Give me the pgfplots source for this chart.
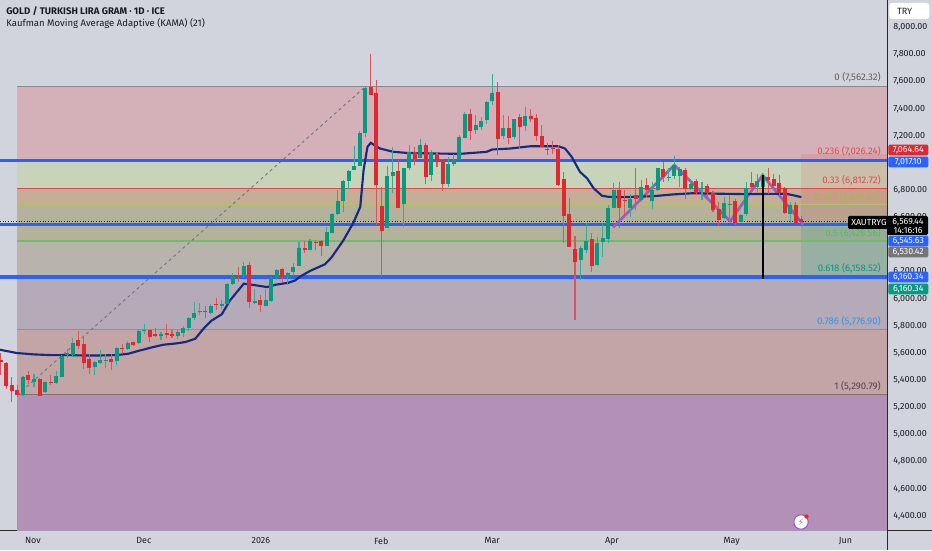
\documentclass[border=0pt]{standalone}
\usepackage{pgfplots}
\usepackage{pgfplotstable}
\pgfplotsset{compat=1.18}
\usepackage{fontspec}
\setmainfont{Fira Sans}
\newfontfamily\symb{DejaVu Sans}

\definecolor{bgc}{RGB}{209,212,220}
\definecolor{txtc}{RGB}{25,28,38}
\definecolor{cup}{RGB}{8,153,129}
\definecolor{cdn}{RGB}{222,40,50}
\definecolor{kama}{RGB}{22,42,130}
\definecolor{hl}{RGB}{41,98,255}
\definecolor{patt}{RGB}{156,92,190}
\definecolor{z0}{RGB}{212,177,184}
\definecolor{z1}{RGB}{200,212,186}
\definecolor{z2}{RGB}{198,174,150}
\definecolor{z3}{RGB}{181,178,155}
\definecolor{z4}{RGB}{184,180,171}
\definecolor{z5}{RGB}{180,170,184}
\definecolor{z6}{RGB}{196,165,165}
\definecolor{z7}{RGB}{179,145,182}
\definecolor{lolive}{RGB}{178,192,105}
\definecolor{lgreen}{RGB}{110,190,105}
\definecolor{lblue}{RGB}{115,150,190}
\definecolor{lone}{RGB}{135,110,115}
\definecolor{tolive}{RGB}{165,180,90}
\definecolor{tgreen}{RGB}{90,185,95}
\definecolor{tblue}{RGB}{50,150,230}

% day index, open, high, low, close
\pgfplotstableread{
x o h l c
4 5288 5428 5280 5423
6 5388 5442 5349 5408
8 5310 5393 5305 5383
10 5378 5464 5369 5428
11 5423 5582 5423 5577
12 5585 5631 5565 5600
13 5585 5713 5570 5671
17 5494 5541 5437 5533
18 5523 5624 5516 5545
19 5541 5590 5487 5550
21 5541 5641 5509 5636
23 5627 5686 5624 5676
25 5671 5767 5668 5762
26 5764 5816 5737 5771
29 5727 5752 5693 5742
32 5725 5767 5705 5757
33 5745 5796 5717 5786
34 5784 5865 5759 5860
35 5858 5975 5840 5897
36 5902 5968 5882 5909
38 5894 5958 5889 5948
40 5948 5988 5926 5961
41 5961 6115 5958 6106
42 6106 6189 6103 6170
44 6165 6273 6162 6243
46 5968 6074 5963 5980
48 5946 6074 5944 5988
49 5980 6157 5978 6152
50 6155 6219 6140 6214
52 6158 6200 6101 6192
53 6200 6261 6168 6232
54 6244 6421 6241 6372
56 6359 6440 6357 6426
59 6389 6526 6386 6494
60 6487 6630 6482 6625
61 6622 6802 6617 6723
62 6720 6875 6642 6868
63 6869 6952 6812 6943
64 6950 7124 6947 6979
65 6979 7235 6977 7218
66 7218 7562 7193 7554
70 6521 6979 6519 6908
71 6908 7120 6780 6935
73 6697 6967 6526 6960
74 6967 7132 6947 7085
76 7041 7181 7038 7132
78 6911 7095 6869 7078
81 6849 7046 6820 6992
82 6992 7070 6977 7026
83 7026 7205 7021 7193
84 7188 7377 7186 7360
86 7242 7353 7213 7279
87 7267 7341 7242 7309
88 7321 7456 7291 7451
89 7456 7660 7431 7517
91 7198 7353 7174 7262
93 7193 7328 7174 7323
95 7272 7414 7237 7350
105 6285 6388 6137 6371
106 6363 6555 6334 6425
108 6248 6457 6241 6413
109 6420 6555 6309 6449
110 6444 6690 6408 6668
111 6668 6855 6666 6800
114 6666 6769 6604 6734
116 6727 6874 6715 6820
118 6717 6862 6658 6801
119 6801 6965 6796 6960
121 6889 6960 6869 6899
122 6904 7051 6879 6985
123 6904 6968 6820 6953
125 6808 6879 6801 6845
127 6806 6862 6727 6813
131 6592 6751 6587 6707
132 6690 6764 6567 6697
134 6567 6624 6565 6619
135 6624 6862 6609 6813
137 6820 6923 6788 6867
138 6825 6923 6813 6906
143 6624 6715 6555 6690
}\upcandles

\pgfplotstableread{
x o h l c
0 5550 5600 5437 5536
1 5526 5533 5337 5354
2 5366 5423 5238 5317
3 5324 5361 5275 5292
5 5437 5467 5369 5403
7 5408 5413 5283 5285
9 5383 5435 5366 5376
14 5698 5762 5631 5654
15 5666 5722 5484 5528
16 5553 5590 5442 5491
20 5555 5590 5477 5536
22 5636 5668 5590 5629
24 5678 5683 5649 5659
27 5767 5771 5681 5715
28 5740 5786 5717 5727
30 5745 5816 5710 5732
31 5742 5771 5710 5722
37 5909 5944 5860 5902
39 5958 6002 5914 5951
43 6170 6233 6123 6160
45 6246 6270 5934 5975
47 5988 6025 5902 5956
51 6222 6224 6114 6158
55 6372 6428 6335 6359
57 6418 6433 6359 6411
58 6426 6433 6315 6389
67 7557 7807 7500 7505
68 7513 7611 6540 6837
69 6684 6825 6163 6502
72 6943 7021 6666 6672
75 7083 7120 6984 7033
77 7132 7149 6844 6898
79 7058 7083 6972 7009
80 7021 7033 6795 6849
85 7365 7395 7169 7237
90 7522 7599 7058 7181
92 7257 7345 7139 7188
94 7338 7360 7107 7267
96 7345 7397 7299 7323
97 7333 7358 7161 7198
98 7198 7284 7115 7119
99 7102 7151 7058 7095
100 7112 7161 7065 7102
101 7105 7132 6830 6842
102 6879 6932 6413 6611
103 6625 6746 6379 6384
104 6364 6462 5843 6271
107 6444 6481 6199 6241
112 6800 6862 6518 6670
113 6729 6801 6616 6724
115 6764 6960 6653 6732
117 6842 6887 6739 6801
120 6953 7009 6862 6894
124 6948 6965 6732 6808
126 6867 6879 6764 6776
128 6830 6845 6732 6776
129 6783 6796 6641 6653
130 6663 6715 6535 6580
133 6722 6732 6543 6555
136 6850 6931 6788 6825
139 6899 6960 6769 6874
140 6879 6923 6801 6833
141 6850 6911 6764 6781
142 6813 6825 6624 6634
144 6690 6715 6555 6560
145 6589 6609 6526 6569
}\downcandles

\pgfplotsset{
  zone/.style={draw=none, fill=#1, forget plot},
  level/.style={draw=#1, line width=.75pt, forget plot},
  candle/.style 2 args={draw=none, mark=none, forget plot, error bars/.cd, y dir=plus, y explicit, error mark=none,
    error bar style={line width=#2, draw=#1}},
}
\newcommand{\zone}[3]{\addplot[zone=#1] coordinates {(3,#2) (160.58,#2) (160.58,#3) (3,#3)};}
\newcommand{\flevel}[2]{\addplot[level=#1] coordinates {(3,#2) (160.58,#2)};}
\newcommand{\hlev}[1]{\addplot[hl, line width=2.3pt, forget plot] coordinates {(-0.163,#1) (160.58,#1)};}
\newcommand{\ptag}[3]{\node[fill=#1, rounded corners=1pt, text=white, minimum width=30pt, minimum height=8pt, inner sep=0pt, font=\fontsize{6.6}{7}\selectfont, anchor=west] at (888,#2) {#3};}
\newcommand{\fiblab}[3]{\node[text=#1, inner sep=0pt, anchor=east, font=\fontsize{7.2}{8}\selectfont] at (881,#2) {#3};}

\begin{document}
\begin{tikzpicture}
\path[use as bounding box, fill=bgc] (0,0) rectangle (699pt,412.5pt);
\begin{axis}[
  at={(0pt,14.475pt)}, anchor=south west,
  scale only axis, width=665.5pt, height=398pt,
  xmin=-0.163, xmax=160.58, ymin=4290.6, ymax=8201.6,
  axis x line=bottom, axis y line=right,
  axis line style={-, draw=black!80!bgc, line width=.8pt},
  major tick length=0pt,
  xtick={5.8,25.9,47.1,68.9,89,110.7,132.4,153},
  xticklabels={Nov,Dec,2026,Feb,Mar,Apr,May,Jun},
  ytick={4400,4600,4800,5000,5200,5400,5600,5800,6000,6200,6600,6800,7200,7400,7600,7800,8000},
  ticklabel style={font=\fontsize{6.7}{8}\selectfont, text=txtc, inner sep=0pt},
  xticklabel style={yshift=-5pt},
  yticklabel style={xshift=4.4pt},
  /pgf/number format/.cd, fixed, fixed zerofill, precision=2, 1000 sep={,}, assume math mode=true,
]
% fib zones
\zone{z0}{7562.32}{7026.24}
\zone{z1}{7026.24}{6812.72}
\zone{z2}{6812.72}{6694.60}
\zone{z3}{6694.60}{6426.56}
\zone{z4}{6426.56}{6158.52}
\zone{z5}{6158.52}{5776.90}
\zone{z6}{5776.90}{5290.79}
\zone{z7}{5290.79}{4200}
% long / short boxes
\addplot[zone=cdn, fill opacity=.12] coordinates {(145,7064.64) (160.58,7064.64) (160.58,6569.44) (145,6569.44)};
\addplot[zone=cup, fill opacity=.18] coordinates {(145,6569.44) (160.58,6569.44) (160.58,6160.34) (145,6160.34)};
% fib lines
\flevel{black!35!bgc}{7562.32}
\flevel{cdn!80!z1}{6812.72}
\flevel{lolive}{6694.60}
\addplot[draw=lgreen, line width=1.4pt, forget plot] coordinates {(3,6426.56) (160.58,6426.56)};
\flevel{lblue}{5776.90}
\flevel{lone}{5290.79}
% trend line of the fib
\addplot[black!45!bgc, line width=.7pt, dash pattern=on 2.2pt off 2.4pt, forget plot] coordinates {(3,5290.79) (66,7562.32)};
% price line
\addplot[black!85, line width=.7pt, dash pattern=on .8pt off 1.2pt, forget plot] coordinates {(-0.163,6569.44) (160.58,6569.44)};
\hlev{7017.10}
\hlev{6545.63}
\hlev{6160.34}
% drawn pattern
\addplot[patt, line width=2pt, forget plot] coordinates {(110.9,6526) (122,6985) (132.1,6572) (138,6911) (145.4,6545)};
% KAMA
\addplot[kama, line width=1.6pt, forget plot] coordinates {
(-0.16,5624) (2.9,5600) (5.9,5590) (8.9,5585) (11.9,5585) (15,5582) (18,5582) (21,5585) (23.1,5595)
(25.2,5619) (27.6,5644) (29.4,5661) (31.8,5671) (33.4,5681) (35.2,5705) (36.7,5779) (38.2,5840)
(40,5885) (41.5,5988) (44,6111) (45.1,6106) (48.2,6086) (49.7,6103) (52.1,6118) (53.3,6135)
(54.2,6163) (56,6205) (58.7,6254) (59.9,6305) (62,6428) (63.8,6556) (65.1,6677) (65.7,6947)
(66.4,7119) (67,7149) (68.7,7107) (71.1,7083) (73.5,7075) (75.9,7073) (79.5,7070) (83.2,7068)
(88,7083) (89,7100) (92.2,7107) (95.9,7124) (98.9,7124) (101,7124) (102.2,7107) (103.4,7046)
(104.9,6935) (106.2,6887) (107.4,6813) (108.9,6759) (110.1,6751) (112.8,6749) (118.2,6756)
(121.8,6769) (125.4,6778) (130.2,6774) (135,6771) (142.2,6774) (143.4,6764) (145,6749)};
% wicks
\addplot[candle={cup!75!bgc}{.8pt}] table[x=x, y=l, y error plus expr=\thisrow{h}-\thisrow{l}] {\upcandles};
\addplot[candle={cdn!75!bgc}{.8pt}] table[x=x, y=l, y error plus expr=\thisrow{h}-\thisrow{l}] {\downcandles};
% bodies
\addplot[candle={cup}{3pt}] table[x=x, y=o, y error plus expr=\thisrow{c}-\thisrow{o}] {\upcandles};
\addplot[candle={cdn}{3pt}] table[x=x, y=c, y error plus expr=\thisrow{o}-\thisrow{c}] {\downcandles};
% vertical drawn line
\addplot[black, line width=1.4pt, forget plot] coordinates {(138,6911) (138,6143)};
\end{axis}

% overlays in pixel units of the screenshot
\begin{scope}[x=.75pt, y=-.75pt, shift={(0pt,412.5pt)}]
\draw[black!80!bgc, line width=.8pt] (887.3,530.7) -- (932,530.7);
\draw[black!80!bgc, line width=.8pt] (887.3,530.7) -- (887.3,550);

\node[anchor=west, inner sep=0pt, text=txtc, font=\fontsize{7.2}{8}\selectfont\bfseries] at (6,11) {GOLD / TURKISH LIRA GRAM · 1D · ICE};
\node[anchor=west, inner sep=0pt, text=txtc, font=\fontsize{7.15}{8}\selectfont] at (6,23) {Kaufman Moving Average Adaptive (KAMA) (21)};

\fiblab{black!50!z0}{77}{0 (7,562.32)}
\fiblab{cdn!85!white}{151}{0.236 (7,026.24)}
\fiblab{cdn!85!white}{180}{0.33 (6,812.72)}
\fiblab{tolive}{197}{0.382 (6,694.60)}
\fiblab{tgreen}{233}{0.5 (6,426.56)}
\fiblab{cup}{268}{0.618 (6,158.52)}
\fiblab{tblue}{321}{0.786 (5,776.90)}
\fiblab{black!55!z7}{386}{1 (5,290.79)}

\node[fill=white, rounded corners=2pt, minimum width=30pt, minimum height=12pt, inner sep=0pt, anchor=west] at (889,11) {};
\node[anchor=west, inner sep=0pt, text=txtc, font=\fontsize{6.8}{8}\selectfont] at (897,11) {TRY};

\ptag{cdn}{150}{7,064.64}
\ptag{hl}{162}{7,017.10}
\ptag{hl}{241}{6,545.63}
\ptag{black!45!bgc}{252}{6,530.42}
\ptag{hl}{277}{6,160.34}
\ptag{cup}{289}{6,160.34}
\fill[black, rounded corners=1pt] (848,216) rectangle (888,229);
\fill[black, rounded corners=1pt] (887,216) rectangle (928,235);
\node[anchor=west, inner sep=0pt, text=white, font=\fontsize{6.6}{7}\selectfont] at (851,222) {XAUTRYG};
\node[anchor=center, inner sep=0pt, text=white, font=\fontsize{6.6}{7}\selectfont] at (908,222) {6,569.44};
\node[anchor=center, inner sep=0pt, text=white, font=\fontsize{6.6}{7}\selectfont] at (908,230.5) {14:16:16};

% flash icon
\fill[white] (801,522) circle (5.4pt);
\draw[patt, line width=.8pt] (801,522) circle (5.4pt);
\node[inner sep=0pt, text=patt, font=\symb\fontsize{6.5}{7}\selectfont] at (801,522) {⚡};
\fill[cdn] (806.5,516.5) circle (1.6pt);
\end{scope}
\end{tikzpicture}
\end{document}
